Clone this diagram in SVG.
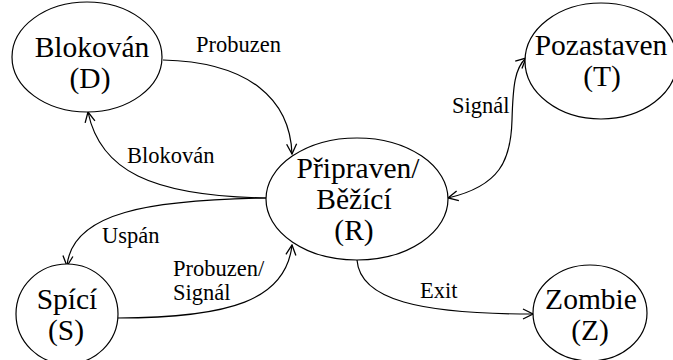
<svg xmlns="http://www.w3.org/2000/svg" width="673" height="360" viewBox="0 0 673 360">
  <style>
    .state ellipse { fill: #ffffff; stroke: #000000; stroke-width: 1.2; }
    .state text { font-family: "Liberation Serif", "Times New Roman", Times, serif; font-size: 29.5px; fill: #000000; text-anchor: middle; }
    .edge { fill: none; stroke: #000000; stroke-width: 1.2; }
    .lbl { font-family: "Liberation Serif", "Times New Roman", Times, serif; font-size: 22.5px; fill: #000000; }
  </style>
  <defs>
    <marker id="arrow" viewBox="0 0 12 12" refX="11" refY="6" markerWidth="12" markerHeight="12" markerUnits="userSpaceOnUse" orient="auto-start-reverse">
      <path d="M1,1 L11,6 L1,11" fill="none" stroke="#000000" stroke-width="1.3"/>
    </marker>
  </defs>

  <rect width="673" height="360" fill="#ffffff"/>

  <!-- transitions -->
  <g id="connectors">
    <path class="edge" d="M163,60 C 250,62 290,100 292,154" marker-end="url(#arrow)"/>
    <path class="edge" d="M266,198 C 150,196 100,170 88,112" marker-end="url(#arrow)"/>
    <path class="edge" d="M266,198 C 150,200 72,212 67,266" marker-end="url(#arrow)"/>
    <path class="edge" d="M117,318 C 230,318 286,300 292,245" marker-end="url(#arrow)"/>
    <path class="edge" d="M448,198 C 500,186 511,160 512,120 C 513,85 515,68 526,58" marker-start="url(#arrow)" marker-end="url(#arrow)"/>
    <path class="edge" d="M357,260 C 360,300 420,314 533,314" marker-end="url(#arrow)"/>

    <text class="lbl" x="196" y="52">Probuzen</text>
    <text class="lbl" x="127" y="163">Blokován</text>
    <text class="lbl" x="452" y="113">Signál</text>
    <text class="lbl" x="102" y="243">Uspán</text>
    <text class="lbl" x="173" y="276">Probuzen/</text>
    <text class="lbl" x="173" y="300">Signál</text>
    <text class="lbl" x="420" y="298">Exit</text>
  </g>

  <!-- process states -->
  <g id="blokovan" class="state">
    <ellipse cx="87" cy="57" rx="75" ry="55"/>
    <text x="92" y="57">Blokován</text>
    <text x="90" y="88">(D)</text>
  </g>

  <g id="pozastaven" class="state">
    <ellipse cx="601" cy="61" rx="76" ry="58"/>
    <text x="601" y="55">Pozastaven</text>
    <text x="602" y="86">(T)</text>
  </g>

  <g id="pripraven" class="state">
    <ellipse cx="357" cy="199" rx="91" ry="61"/>
    <text x="358" y="178">Připraven/</text>
    <text x="354" y="209">Běžící</text>
    <text x="354" y="240">(R)</text>
  </g>

  <g id="spici" class="state">
    <ellipse cx="67" cy="314" rx="51" ry="50"/>
    <text x="67" y="309">Spící</text>
    <text x="66" y="340">(S)</text>
  </g>

  <g id="zombie" class="state">
    <ellipse cx="590" cy="313" rx="57" ry="48"/>
    <text x="591" y="309">Zombie</text>
    <text x="590" y="340">(Z)</text>
  </g>
</svg>
